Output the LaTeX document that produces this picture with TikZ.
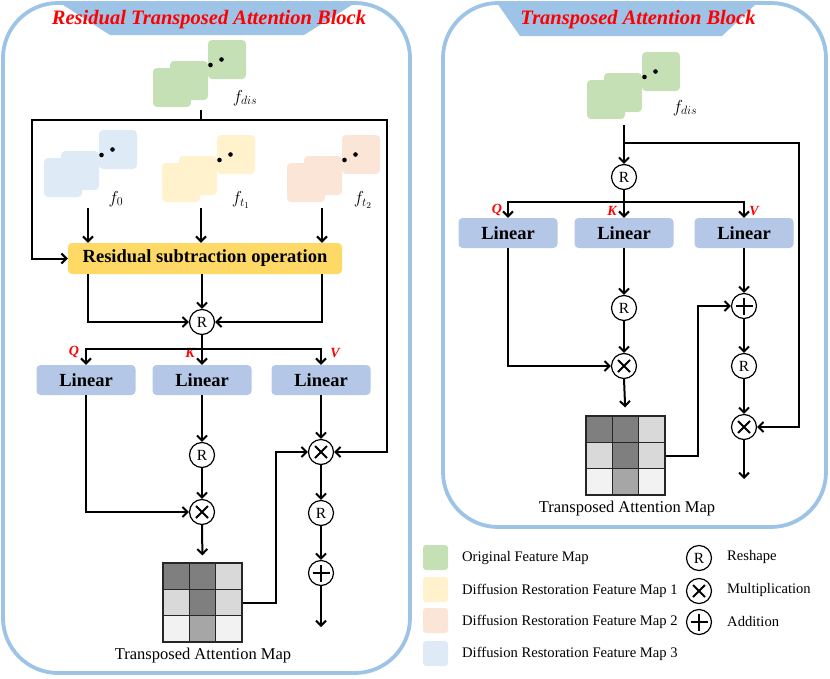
\documentclass[tikz,border=0pt]{standalone}
\usepackage{fontspec}
\setmainfont{Liberation Serif}
\usetikzlibrary{arrows.meta}
\definecolor{bord}{HTML}{9DC3E6}
\definecolor{fgreen}{HTML}{C5E0B4}
\definecolor{fyellow}{HTML}{FFF2CC}
\definecolor{fpeach}{HTML}{FBE5D6}
\definecolor{fblue}{HTML}{DEEBF7}
\definecolor{ybox}{HTML}{FFD966}
\definecolor{lin}{HTML}{B4C7E7}
\definecolor{gA}{HTML}{7F7F7F}
\definecolor{gB}{HTML}{D9D9D9}
\definecolor{gC}{HTML}{F2F2F2}
\definecolor{gD}{HTML}{A6A6A6}
\definecolor{gridc}{HTML}{262626}
\newcommand{\fmapcl}[3]{%
  \fill[#3, rounded corners=4pt] (#1-55,#2+28) rectangle ++(38,39);
  \fill[#3, rounded corners=4pt] (#1-38,#2+21) rectangle ++(38,39);
  \fill[#3, rounded corners=4pt] (#1,#2) rectangle ++(38,39);
  \fill (#1+2.5,#2+25) circle (2.3pt);
  \fill (#1+13.5,#2+19.5) circle (2.3pt);
}
\newcommand{\attnmap}[3]{% name, left, top
  \begin{scope}[shift={(#2,#3)}]
    \fill[gA] (0,0) rectangle (26.33,26.33);
    \fill[gA] (26.33,0) rectangle (52.67,26.33);
    \fill[gB] (52.67,0) rectangle (79,26.33);
    \fill[gB] (0,26.33) rectangle (26.33,52.67);
    \fill[gA] (26.33,26.33) rectangle (52.67,52.67);
    \fill[gB] (52.67,26.33) rectangle (79,52.67);
    \fill[gC] (0,52.67) rectangle (26.33,79);
    \fill[gD] (26.33,52.67) rectangle (52.67,79);
    \fill[gC] (52.67,52.67) rectangle (79,79);
    \draw[gridc, line width=1.1pt] (26.33,0) -- (26.33,79) (52.67,0) -- (52.67,79)
      (0,26.33) -- (79,26.33) (0,52.67) -- (79,52.67);
    \node[draw=gridc, line width=1.2pt, minimum size=79pt, inner sep=0pt] (#1) at (39.5,39.5) {};
  \end{scope}
}
\tikzset{
  conn/.style={line width=2pt, -{Straight Barb[length=5pt,width=10pt]}},
  plainln/.style={line width=2pt},
  opcirc/.style={circle, draw, line width=1.2pt, minimum size=25pt, inner sep=0pt, fill=white},
  rsh/.style={opcirc, font=\fontsize{15.5}{15.5}\selectfont},
  mulop/.style={opcirc, path picture={
     \draw[line width=2pt] ([shift={(-6pt,-6pt)}]path picture bounding box.center) -- ([shift={(6pt,6pt)}]path picture bounding box.center);
     \draw[line width=2pt] ([shift={(-6pt,6pt)}]path picture bounding box.center) -- ([shift={(6pt,-6pt)}]path picture bounding box.center);}},
  addop/.style={opcirc, path picture={
     \draw[line width=2pt] ([shift={(-8.5pt,0pt)}]path picture bounding box.center) -- ([shift={(8.5pt,0pt)}]path picture bounding box.center);
     \draw[line width=2pt] ([shift={(0pt,-8.5pt)}]path picture bounding box.center) -- ([shift={(0pt,8.5pt)}]path picture bounding box.center);}},
  linbox/.style={rectangle, rounded corners=4pt, fill=lin, minimum width=99pt, minimum height=30pt, inner sep=0pt, font=\bfseries\fontsize{18.5}{18.5}\selectfont},
  qkv/.style={text=red, inner sep=0pt, font=\bfseries\itshape\fontsize{14}{14}\selectfont},
  outerbox/.style={draw=bord, line width=3.8pt, rounded corners=55pt},
  titletxt/.style={text=red, inner sep=0pt, font=\bfseries\itshape\fontsize{20.5}{20.5}\selectfont},
  flab/.style={inner sep=0pt, font=\fontsize{18}{18}\selectfont},
  maplab/.style={inner sep=0pt, font=\fontsize{16.5}{16.5}\selectfont},
  legtxt/.style={inner sep=0pt, anchor=west, font=\fontsize{14.6}{14.6}\selectfont},
  legsq/.style={rectangle, rounded corners=3pt, minimum size=25pt, inner sep=0pt},
}
\begin{document}
\begin{tikzpicture}[x=1pt,y=-1pt]
\useasboundingbox (0,0) rectangle (830,678);
% ---------- left block ----------
\fill[bord] (60,3) -- (355,3) -- (304,35) -- (110,35) -- cycle;
\draw[outerbox] (3,3) rectangle (410,673);
\node[titletxt] (ltitle) at (209,20) {Residual Transposed Attention Block};

\fmapcl{208}{40}{fgreen}
\node[flab] (ldislab) at (245,98) {$f_{dis}$};
\fmapcl{99}{130}{fblue}
\node[flab] (f0lab) at (116,199) {$f_{0}$};
\fmapcl{217}{135}{fyellow}
\node[flab] (ft1lab) at (241,200) {$f_{t_1}$};
\fmapcl{342}{135}{fpeach}
\node[flab] (ft2lab) at (363,200) {$f_{t_2}$};

\node[rectangle, rounded corners=4pt, fill=ybox, minimum width=274pt, minimum height=31pt, inner sep=0pt,
      font=\bfseries\fontsize{18.5}{18.5}\selectfont] (rso) at (205,258.5) {Residual subtraction operation};

\node[rsh] (R1) at (202,322) {R};
\node[linbox] (LQ) at (86,380) {Linear};
\node[linbox] (LK) at (202,380) {Linear};
\node[linbox] (LV) at (321,380) {Linear};
\node[qkv] (lq) at (74,352) {Q};
\node[qkv] (lk) at (190,353) {K};
\node[qkv] (lv) at (335,353) {V};
\node[rsh] (R2) at (202,455) {R};
\node[mulop] (M1) at (202,512) {};
\attnmap{mapL}{163}{563}
\node[maplab] (mapLlab) at (203,656) {Transposed Attention Map};
\node[mulop] (M2) at (321,452) {};
\node[rsh] (R3) at (321,513) {R};
\node[addop] (A1) at (321,573) {};
\coordinate (Lend) at (321,627);

\coordinate (Ldis) at (201,110);
\coordinate (Lsplit) at (201,120);
\coordinate (LcL) at (32,120);
\coordinate (LcR) at (387,120);
\coordinate (f0out) at (88,208);
\coordinate (ft1out) at (201,208);
\coordinate (ft2out) at (322,208);
\coordinate (Lbr) at (202,349);

\draw[plainln] (Ldis) -- (Lsplit);
\draw[conn] (Lsplit) -- (LcL) |- (rso.west);
\draw[conn] (Lsplit) -- (LcR) |- (M2.east);
\draw[conn] (f0out) -- (f0out |- rso.north);
\draw[conn] (ft1out) -- (ft1out |- rso.north);
\draw[conn] (ft2out) -- (ft2out |- rso.north);
\draw[conn] (rso.south -| f0out) |- (R1.west);
\draw[conn] (rso.south -| R1) -- (R1.north);
\draw[conn] (rso.south -| ft2out) |- (R1.east);
\draw[plainln] (R1.south) -- (Lbr);
\draw[conn] (Lbr) -| (LQ.north);
\draw[conn] (Lbr) -- (LK.north);
\draw[conn] (Lbr) -| (LV.north);
\draw[conn] (LQ.south) |- (M1.west);
\draw[conn] (LK.south) -- (R2.north);
\draw[conn] (R2.south) -- (M1.north);
\draw[conn, shorten >=7pt] (M1.south) -- (mapL.north);
\draw[conn] (mapL.east) -- ++(33,0) |- (M2.west);
\draw[conn] (LV.south) -- (M2.north);
\draw[conn] (M2.south) -- (R3.north);
\draw[conn] (R3.south) -- (A1.north);
\draw[conn] (A1.south) -- (Lend);

% ---------- right block ----------
\fill[bord] (497,3) -- (757,3) -- (722,36) -- (520,36) -- cycle;
\draw[outerbox] (443,3) rectangle (826,527);
\node[titletxt] (rtitle) at (638,20) {Transposed Attention Block};

\fmapcl{642}{52}{fgreen}
\node[flab] (rdislab) at (685,108) {$f_{dis}$};
\node[rsh] (R4) at (624,177) {R};
\node[linbox] (RQ) at (508,233) {Linear};
\node[linbox] (RK) at (624,233) {Linear};
\node[linbox] (RV) at (744,233) {Linear};
\node[qkv] (rq) at (497,210) {Q};
\node[qkv] (rk) at (612,211) {K};
\node[qkv] (rv) at (754,211) {V};
\node[rsh] (R5) at (624,308) {R};
\node[mulop] (M3) at (624,366) {};
\attnmap{mapR}{586}{416}
\node[maplab] (mapRlab) at (627,509) {Transposed Attention Map};
\node[addop] (A2) at (744,306) {};
\node[rsh] (R6) at (744,366) {R};
\node[mulop] (M4) at (744,427) {};
\coordinate (Rend) at (744,479);

\coordinate (Rdis) at (624,125);
\coordinate (Rsplit) at (624,143);
\coordinate (RcR) at (799,143);
\coordinate (Rbr) at (624,202);

\draw[conn] (Rdis) -- (R4.north);
\draw[conn] (Rsplit) -- (RcR) |- (M4.east);
\draw[plainln] (R4.south) -- (Rbr);
\draw[conn] (Rbr) -| (RQ.north);
\draw[conn] (Rbr) -- (RK.north);
\draw[conn] (Rbr) -| (RV.north);
\draw[conn] (RQ.south) |- (M3.west);
\draw[conn] (RK.south) -- (R5.north);
\draw[conn] (R5.south) -- (M3.north);
\draw[conn, shorten >=8pt] (M3.south) -- (mapR.north);
\draw[conn] (mapR.east) -- ++(32,0) |- (A2.west);
\draw[conn] (RV.south) -- (A2.north);
\draw[conn] (A2.south) -- (R6.north);
\draw[conn] (R6.south) -- (M4.north);
\draw[conn] (M4.south) -- (Rend);

% ---------- legend ----------
\node[legsq, fill=fgreen] (sq1) at (435.5,557.5) {};
\node[legsq, fill=fyellow] (sq2) at (435.5,589.5) {};
\node[legsq, fill=fpeach] (sq3) at (435.5,620.5) {};
\node[legsq, fill=fblue] (sq4) at (435.5,653.5) {};
\node[legtxt] (lt1) at (462,558) {Original Feature Map};
\node[legtxt] (lt2) at (462,591) {Diffusion Restoration Feature Map 1};
\node[legtxt] (lt3) at (462,622) {Diffusion Restoration Feature Map 2};
\node[legtxt] (lt4) at (462,654) {Diffusion Restoration Feature Map 3};
\node[rsh] (legR) at (699,558) {R};
\node[mulop] (legM) at (699,591) {};
\node[addop] (legA) at (699,622) {};
\node[legtxt] (lr1) at (727,557) {Reshape};
\node[legtxt] (lr2) at (727,590) {Multiplication};
\node[legtxt] (lr3) at (727,621) {Addition};
\end{tikzpicture}
\end{document}
